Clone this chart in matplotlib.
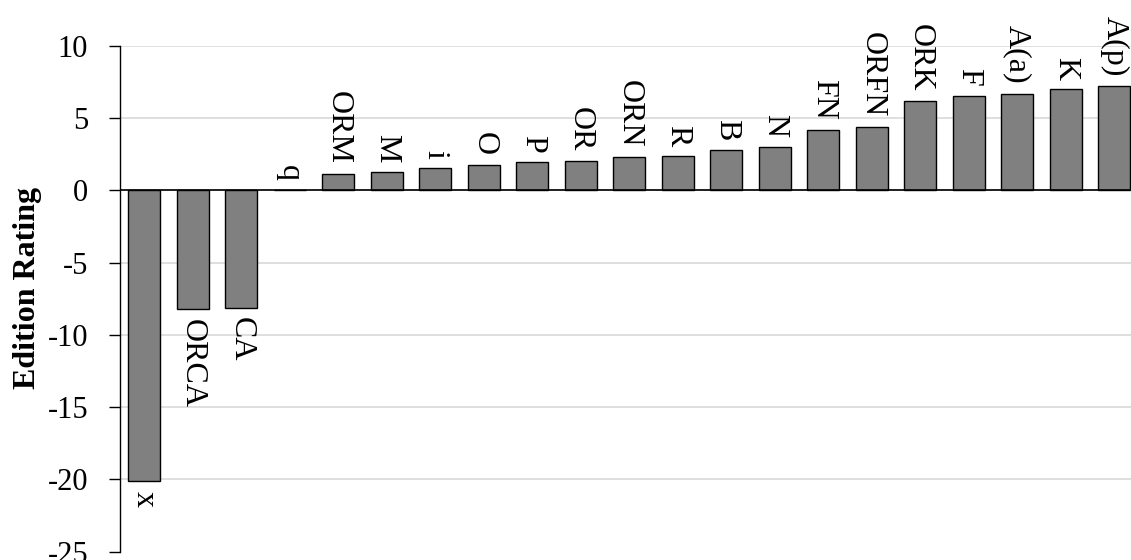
import numpy as np
import matplotlib.pyplot as plt

# ── Dados ─────────────────────────────────────────────────────────────────────
labels = ['x', 'ORCA', 'CA', 'q', 'ORM', 'M', 'i', 'O', 'P', 'OR', 'ORN',
          'R', 'B', 'N', 'FN', 'ORFN', 'ORK', 'F', 'A(a)', 'K', 'A(p)']
values = [-20.1, -8.2, -8.1, 0.0, 1.15, 1.26, 1.54, 1.75, 1.95, 2.02, 2.30,
          2.37, 2.79, 3.04, 4.21, 4.40, 6.18, 6.57, 6.71, 6.99, 7.24]
yticks = [-25, -20, -15, -10, -5, 0, 5, 10]

plt.rcParams['font.family'] = ['Liberation Serif', 'DejaVu Serif']

fig = plt.figure(figsize=(11.31, 5.6), dpi=100, facecolor='white')
# eixo propositalmente mais largo que a figura (último rótulo cortado)
ax = fig.add_axes([120 / 1131, 8.3 / 560, 1018.5 / 1131, 505.7 / 560])

x = np.arange(len(labels))
ax.bar(x, values, width=0.67, color='#808080', edgecolor='black',
       linewidth=1.0, zorder=3)
ax.axhline(0, color='black', linewidth=1.2, zorder=4)

# rótulos das barras, girados
for xi, v, lb in zip(x, values, labels):
    if v < 0:
        ax.annotate(lb, (xi, v), xytext=(0, -7), textcoords='offset points',
                    rotation=-90, ha='center', va='top', fontsize=23,
                    annotation_clip=False)
    else:
        ax.annotate(lb, (xi, v), xytext=(0, 7), textcoords='offset points',
                    rotation=-90, ha='center', va='bottom', fontsize=23,
                    annotation_clip=False)

ax.set_xlim(-0.5, len(labels) - 0.5)
ax.set_ylim(-25, 10)
ax.set_yticks(yticks)
ax.set_yticklabels([str(t) for t in yticks], fontsize=22)
ax.set_xticks([])
ax.tick_params(axis='y', length=8, width=1, pad=15, direction='out')
ax.yaxis.grid(True, color='#d9d9d9', linewidth=1.2, zorder=0)
ax.set_axisbelow(True)
for s in ['top', 'right', 'bottom']:
    ax.spines[s].set_visible(False)
ax.spines['left'].set_linewidth(1.0)
fig.canvas.draw()
ax.get_ygridlines()[0].set_visible(False)

fig.text(28 / 1131, 1 - 288 / 560, 'Edition Rating', rotation=90,
         ha='center', va='center', fontsize=23, fontweight='bold')

plt.savefig('out.png', dpi=100, facecolor='white')
plt.close()
